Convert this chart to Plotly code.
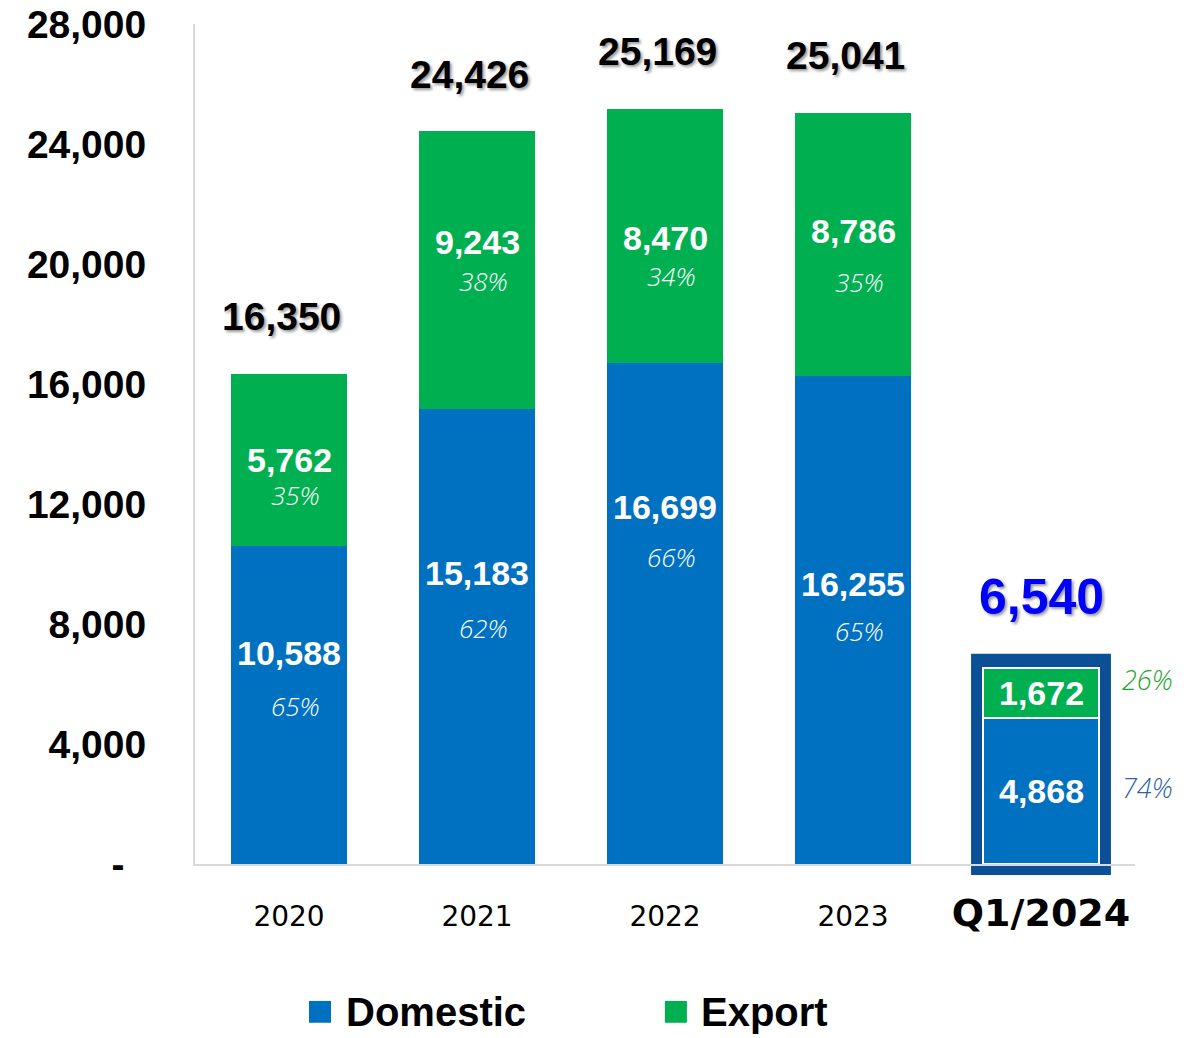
import plotly.graph_objects as go

categories = ["2020", "2021", "2022", "2023", "Q1/2024"]
domestic = [10588, 15183, 16699, 16255, 4868]
export = [5762, 9243, 8470, 8786, 1672]
y_tickvals = [0, 4000, 8000, 12000, 16000, 20000, 24000, 28000]
y_ticktext = ["-\u00a0\u00a0", "4,000", "8,000", "12,000", "16,000", "20,000", "24,000", "28,000"]

# style (pixel offsets for labels)
dom_val_shift = [52, 63, 107, 36, 0]
dom_pct_shift = [-1, 8, 57, -11, 3]
exp_val_shift = [0, 28, -2, 14, 0]
exp_pct_shift = [-35, -11, -40, -37, 13]

BLUE = "#0070C0"
GREEN = "#00B050"
FONT = "Liberation Sans"

totals = [d + e for d, e in zip(domestic, export)]
n = len(categories)
xs = list(range(n))

fig = go.Figure()
fig.add_trace(go.Bar(x=xs, y=domestic, name="Domestic", marker=dict(color=BLUE,
                     line=dict(color="white", width=[0, 0, 0, 0, 2]))))
fig.add_trace(go.Bar(x=xs, y=export, name="Export", marker=dict(color=GREEN,
                     line=dict(color="white", width=[0, 0, 0, 0, 2]))))

ann = []
pct_font = dict(family="Open Sans", size=26, color="white", style="italic", weight=300)
for i in range(n):
    d, e, t = domestic[i], export[i], totals[i]
    dp = round(d / t * 100)
    ep = round(e / t * 100)
    ann.append(dict(x=i, y=d / 2, text=f"{d:,}", showarrow=False, yshift=dom_val_shift[i],
                    font=dict(family=FONT, size=34, color="white", weight="bold")))
    ann.append(dict(x=i, y=d + e / 2, text=f"{e:,}", showarrow=False, yshift=exp_val_shift[i],
                    font=dict(family=FONT, size=34, color="white", weight="bold")))
    if i < n - 1:
        ann.append(dict(x=i, y=d / 2, text=f"{dp}%", showarrow=False, yshift=dom_pct_shift[i], xshift=6,
                        font=pct_font))
        ann.append(dict(x=i, y=d + e / 2, text=f"{ep}%", showarrow=False, yshift=exp_pct_shift[i], xshift=6,
                        font=pct_font))
        ann.append(dict(x=i, y=t, text=f"{t:,}", showarrow=False, yshift=57, xshift=-8,
                        font=dict(family=FONT, size=39, color="black", weight="bold",
                                  shadow="2px 2px 3px #9a9a9a")))
    else:
        ann.append(dict(x=i, y=d / 2, text=f"{dp}%", showarrow=False, yshift=dom_pct_shift[i], xshift=106,
                        font=dict(family="Open Sans", size=27, color="#2F5FA5", style="italic", weight=300)))
        ann.append(dict(x=i, y=d + e / 2, text=f"{ep}%", showarrow=False, yshift=exp_pct_shift[i], xshift=106,
                        font=dict(family="Open Sans", size=27, color="#1FA22E", style="italic", weight=300)))
        ann.append(dict(x=i, y=t, text=f"{t:,}", showarrow=False, yshift=71,
                        font=dict(family=FONT, size=50, color="#0000FF", weight="bold",
                                  shadow="2px 2px 3px #9a9a9a")))

# manual legend
leg = [("Domestic", BLUE, 0.1213, 0.158), ("Export", GREEN, 0.4999, 0.536)]
shapes = []
for name, col, x0, tx in leg:
    shapes.append(dict(type="rect", xref="paper", yref="paper", x0=x0, x1=x0 + 0.0234,
                       y0=-0.189, y1=-0.163, fillcolor=col, line=dict(width=0)))
    ann.append(dict(xref="paper", yref="paper", x=tx, y=-0.176, xanchor="left", yanchor="middle",
                    text=name, showarrow=False,
                    font=dict(family=FONT, size=40, color="black", weight="bold")))

# highlight frame around last bar
q = n - 1
shapes.append(dict(type="rect", xref="x", yref="paper", layer="below",
                   x0=q - 0.372, x1=q + 0.372, y0=-11 / 840, y1=totals[q] / 28000 + 14 / 840,
                   fillcolor="#0B4F97", line=dict(width=0)))

ticktext_x = [c if c != "Q1/2024" else
              "<b><span style='font-size:38px;font-family:DejaVu Sans'>Q1/2024</span></b>"
              for c in categories]

# page body has an 8px margin, so the figure is sized/offset to compensate
fig.update_layout(
    barmode="stack", bargap=0.378, width=1183, height=1030,
    margin=dict(l=187, r=56, t=16, b=174, autoexpand=False),
    plot_bgcolor="white", paper_bgcolor="white", showlegend=False,
    annotations=ann, shapes=shapes,
    xaxis=dict(tickvals=xs, ticktext=ticktext_x, range=[-0.5, n - 0.5],
               showline=True, linecolor="#D9D9D9", linewidth=2, ticks="", layer="below traces",
               tickfont=dict(family="DejaVu Sans", size=28, color="black"), ticklabelstandoff=26),
    yaxis=dict(range=[0, 28000], tickvals=y_tickvals, ticktext=y_ticktext, showgrid=False,
               showline=True, linecolor="#D9D9D9", linewidth=2, zeroline=False, ticks="",
               layer="below traces", ticklabeloverflow="allow",
               tickfont=dict(family=FONT, size=39, color="black", weight="bold"),
               ticklabelstandoff=39),
)

fig.write_html("out.html")
